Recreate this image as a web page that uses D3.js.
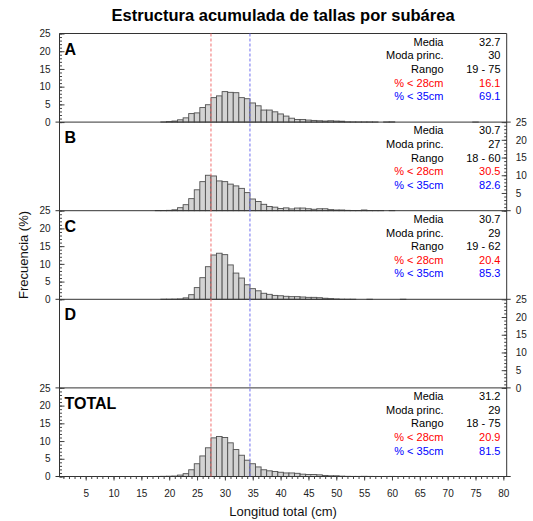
<!DOCTYPE html>
<html>
<head>
<meta charset="utf-8">
<script src="https://cdn.jsdelivr.net/npm/d3@7"></script>
<style>
  html, body { margin: 0; padding: 0; background: #fff; }
  svg { display: block; font-family: Arial, "Liberation Sans", sans-serif; }
</style>
</head>
<body>
<svg id="chart" width="533" height="521"></svg>
<script>
// ---- data (length classes 18..75 cm, frequency %) ----
const lengths = d3.range(18, 76);
const valuesA = [
  0, 0.05, 0.15, 0.3, 0.65, 1.2, 2.4, 2.6, 4.1, 4.9,
  6.9, 7.4, 8.6, 8.4, 8.3, 6.9, 6.6, 5.4, 4.6, 3.4,
  3.4, 2.9, 2.3, 1.7, 1.1, 0.75, 0.75, 0.57, 0.47, 0.38,
  0.3, 0.38, 0.3, 0.25, 0.08, 0.06, 0.05, 0.05, 0.05, 0.04,
  0, 0.05, 0.08, 0, 0, 0, 0, 0, 0, 0,
  0, 0, 0, 0, 0, 0, 0, 0.02
];
const valuesB = [
  0.05, 0.05, 0.1, 0.25, 0.85, 1.7, 3.4, 5.9, 8.2, 10.0,
  9.8, 8.4, 8.2, 7.5, 7.0, 6.3, 5.1, 3.3, 2.6, 1.8,
  1.2, 1.0, 0.6, 0.8, 0.5, 0.75, 0.75, 0.55, 0.4, 0.55,
  0.55, 0.3, 0.2, 0.2, 0.1, 0.05, 0.05, 0.2, 0.05, 0.03,
  0.03, 0, 0.03, 0, 0, 0, 0, 0, 0, 0,
  0, 0, 0, 0, 0, 0, 0, 0
];
const valuesC = [
  0, 0.03, 0.03, 0.05, 0.1, 0.4, 1.3, 3.3, 6.1, 9.2,
  12.5, 13.0, 12.6, 9.7, 7.4, 6.0, 4.1, 3.0, 2.4, 1.7,
  1.4, 1.1, 1.0, 0.85, 0.75, 0.75, 0.65, 0.55, 0.55, 0.45,
  0.3, 0.2, 0.1, 0.03, 0.02, 0.02, 0, 0, 0.02, 0,
  0, 0, 0, 0, 0.02, 0, 0, 0, 0, 0,
  0, 0, 0, 0, 0, 0, 0, 0
];
const valuesD = [];
const valuesTotal = [
  0.03, 0.05, 0.08, 0.12, 0.4, 0.8, 1.9, 3.6, 5.8, 8.1,
  10.9, 11.3, 11.0, 9.5, 7.6, 6.0, 4.6, 3.6, 2.7, 1.9,
  1.6, 1.4, 1.2, 1.0, 1.0, 0.9, 0.66, 0.57, 0.55, 0.47,
  0.3, 0.2, 0.2, 0.1, 0.05, 0.03, 0.03, 0.05, 0.03, 0.02,
  0.01, 0.02, 0.03, 0, 0, 0, 0, 0, 0, 0,
  0, 0, 0, 0, 0, 0, 0, 0.01
];
const panelNames = ["A", "B", "C", "D", "TOTAL"];
const statLabels = ["Media", "Moda princ.", "Rango", "% < 28cm", "% < 35cm"];
const statsA = ["32.7", "30", "19 - 75", "16.1", "69.1"];
const statsB = ["30.7", "27", "18 - 60", "30.5", "82.6"];
const statsC = ["30.7", "29", "19 - 62", "20.4", "85.3"];
const statsD = [];
const statsTotal = ["31.2", "29", "18 - 75", "20.9", "81.5"];
const cutLengths = [28, 35];
const xTicks = d3.range(5, 81, 5);
const yTicks = [0, 5, 10, 15, 20, 25];
const title = "Estructura acumulada de tallas por subárea";
const xTitle = "Longitud total (cm)";
const yTitle = "Frecuencia (%)";

// ---- layout ----
const svg = d3.select("#chart");
const L = 59.5, R = 506.7, T = 33.5, PH = 88.6;
const nP = panelNames.length;
const B = T + nP * PH;
const x = d3.scaleLinear().domain([0.3, 80.6]).range([L, R]);
const statColors = ["#000", "#000", "#000", "#ff0000", "#0000ff"];
const panels = [
  { name: "A", values: valuesA, stats: statsA, side: "left" },
  { name: "B", values: valuesB, stats: statsB, side: "right" },
  { name: "C", values: valuesC, stats: statsC, side: "left" },
  { name: "D", values: valuesD, stats: statsD, side: "right" },
  { name: "TOTAL", values: valuesTotal, stats: statsTotal, side: "left" }
];

svg.append("text").attr("x", (L + R) / 2).attr("y", 21)
  .attr("text-anchor", "middle").attr("font-size", 16.5).attr("font-weight", "bold")
  .attr("fill", "#000").text(title);

panels.forEach((p, i) => {
  const top = T + i * PH, bot = top + PH;
  const y = d3.scaleLinear().domain([0, 25]).range([bot, top]);
  const g = svg.append("g");
  const data = lengths.map((l, j) => ({ l, v: p.values[j] || 0 })).filter(d => d.v > 0);
  g.selectAll("rect").data(data).join("rect")
    .attr("x", d => x(d.l - 0.5)).attr("width", d => x(d.l + 0.5) - x(d.l - 0.5))
    .attr("y", d => y(d.v)).attr("height", d => y(0) - y(d.v))
    .attr("fill", "#d3d3d3").attr("stroke", "#505050").attr("stroke-width", 0.9);

  // y axis (major + minor)
  const axMaj = (p.side === "left" ? d3.axisLeft(y) : d3.axisRight(y))
    .tickValues(yTicks).tickSize(-5).tickPadding(9).tickFormat(d3.format("d"));
  const axMin = (p.side === "left" ? d3.axisLeft(y) : d3.axisRight(y))
    .tickValues(d3.range(0, 26)).tickSize(-2.5).tickFormat("");
  const ax = p.side === "left" ? L : R;
  const ga = svg.append("g").attr("transform", `translate(${ax},0)`).call(axMaj);
  const gm = svg.append("g").attr("transform", `translate(${ax},0)`).call(axMin);
  [ga, gm].forEach(s => { s.select(".domain").remove(); s.selectAll("line").attr("stroke", "#444"); });
  ga.selectAll("text").attr("font-size", 10).attr("fill", "#222").attr("font-family", null);

  // panel label
  svg.append("text").attr("x", 64.5).attr("y", top + 21)
    .attr("font-size", 16).attr("font-weight", "bold").attr("fill", "#000").text(p.name);

  // stats
  p.stats.forEach((s, k) => {
    const yy = top + 12.3 + k * 13.6;
    svg.append("text").attr("x", 443.5).attr("y", yy).attr("text-anchor", "end")
      .attr("font-size", 11).attr("fill", statColors[k]).text(statLabels[k]);
    svg.append("text").attr("x", 500.5).attr("y", yy).attr("text-anchor", "end")
      .attr("font-size", 11).attr("fill", statColors[k]).text(s);
  });

  // separator line (panel bottom)
  svg.append("line").attr("x1", L - 4).attr("x2", R + 4).attr("y1", bot).attr("y2", bot)
    .attr("stroke", "#333").attr("stroke-width", 1);
});

// frame
svg.append("line").attr("x1", L).attr("x2", R).attr("y1", T).attr("y2", T).attr("stroke", "#333");
svg.append("line").attr("x1", L).attr("x2", L).attr("y1", T).attr("y2", B).attr("stroke", "#333");
svg.append("line").attr("x1", R).attr("x2", R).attr("y1", T).attr("y2", B).attr("stroke", "#333");

// cut lines
const cutColors = ["#f07070", "#7070f0"];
cutLengths.forEach((c, k) => {
  svg.append("line").attr("x1", x(c - 0.5)).attr("x2", x(c - 0.5)).attr("y1", T).attr("y2", B)
    .attr("stroke", cutColors[k]).attr("stroke-width", 1).attr("stroke-dasharray", "3,2");
});

// x axis
const gx = svg.append("g").attr("transform", `translate(0,${B})`)
  .call(d3.axisBottom(x).tickValues(xTicks).tickSize(4).tickPadding(9));
const gxm = svg.append("g").attr("transform", `translate(0,${B})`)
  .call(d3.axisBottom(x).tickValues(d3.range(1, 81)).tickSize(2.5).tickFormat(""));
[gx, gxm].forEach(s => { s.select(".domain").remove(); s.selectAll("line").attr("stroke", "#444"); });
gx.selectAll("text").attr("font-size", 10).attr("fill", "#222").attr("font-family", null);

svg.append("text").attr("x", (L + R) / 2).attr("y", 516).attr("text-anchor", "middle")
  .attr("font-size", 13).attr("fill", "#111").text(xTitle);
svg.append("text").attr("transform", `translate(27.5,${(T + B) / 2}) rotate(-90)`)
  .attr("text-anchor", "middle").attr("font-size", 13).attr("fill", "#111").text(yTitle);
</script>
</body>
</html>
